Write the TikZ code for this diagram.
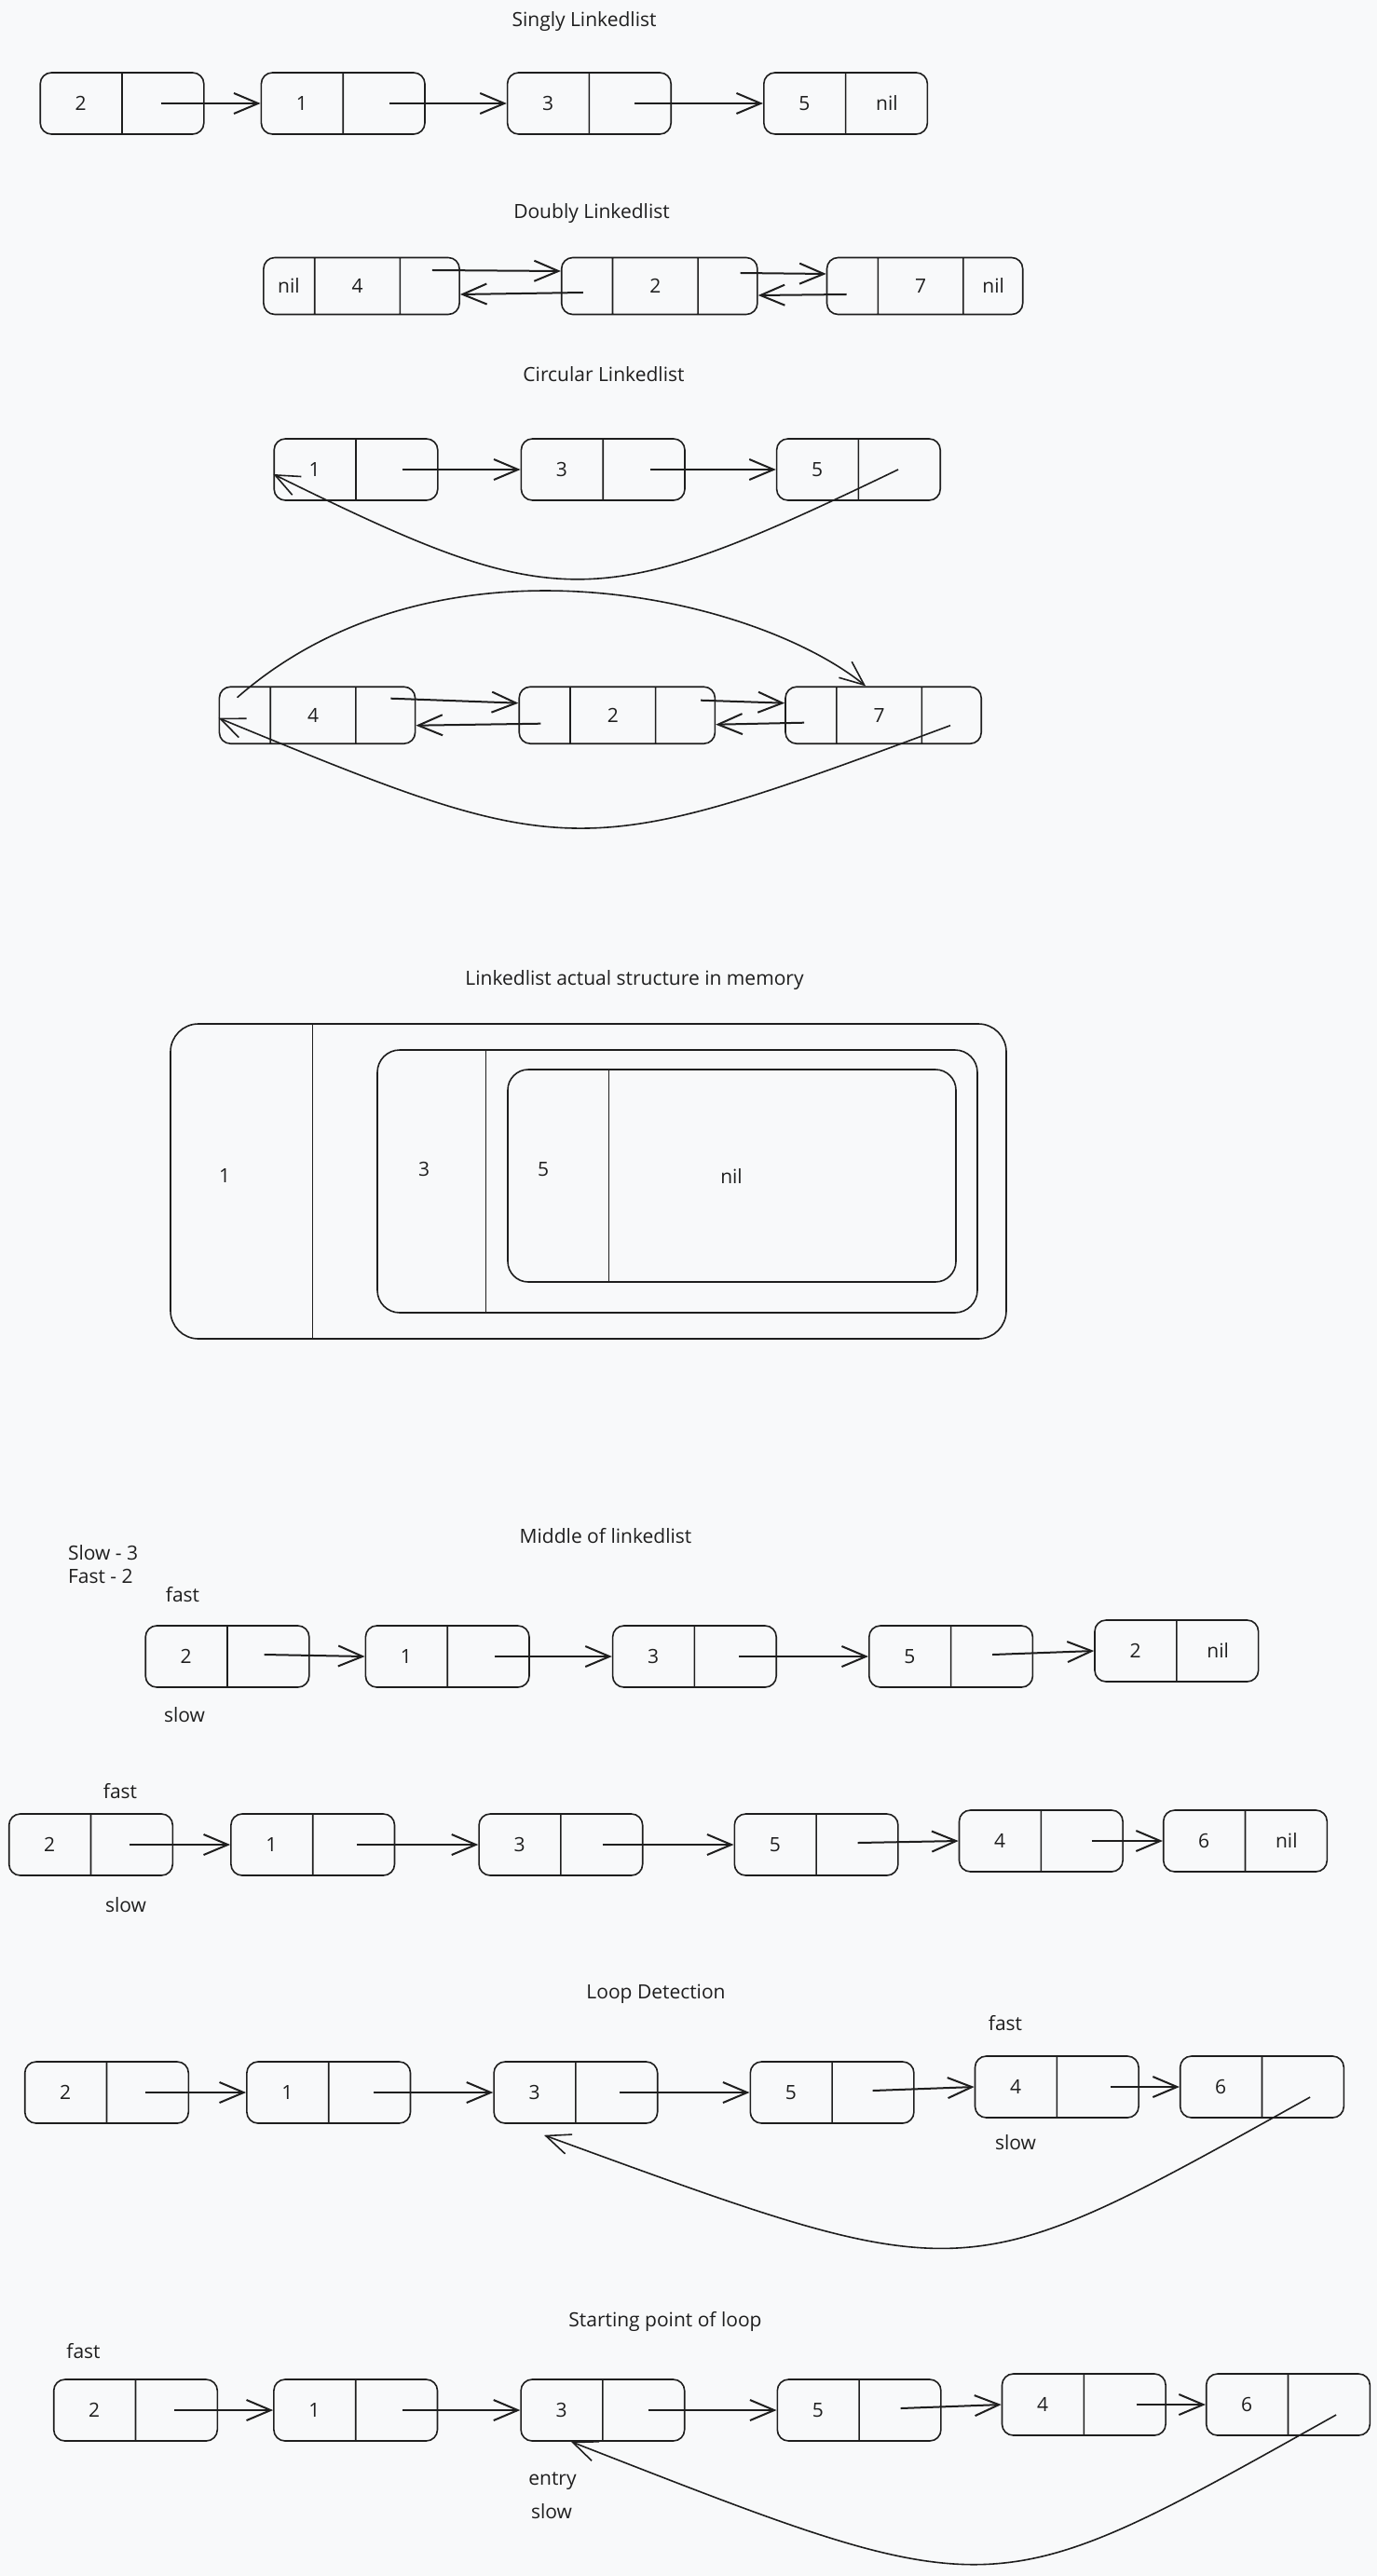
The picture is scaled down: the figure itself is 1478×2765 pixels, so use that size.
\documentclass[tikz,border=0pt]{standalone}
\usepackage{fontspec}
\setmainfont{Open Sans}
\usepackage{tikz}
\usetikzlibrary{positioning,shapes.multipart,arrows.meta}
\usepackage{xcolor}
\definecolor{paper}{HTML}{F8F9FA}
\definecolor{ink}{HTML}{1E1E1E}
\tikzstyle{llcell}=[draw=ink,line width=0.8pt,rounded corners=6pt,rectangle split,rectangle split horizontal,rectangle split parts=2,text width=39.5pt,align=center,inner xsep=2pt,inner ysep=0pt,minimum height=33pt]
\tikzstyle{dllcell}=[draw=ink,line width=0.8pt,rounded corners=6pt,rectangle split,rectangle split horizontal,rectangle split parts=3,inner xsep=0pt,inner ysep=0pt,minimum height=30.5pt]
\tikzstyle{membox}=[draw=ink,line width=0.8pt,inner sep=0pt]
\tikzstyle{ptr}=[draw=ink,line width=1pt,-{Straight Barb[length=13pt,width=11pt]}]
\tikzstyle{backptr}=[draw=ink,line width=0.8pt,-{Straight Barb[length=13pt,width=11pt]}]

\begin{document}
\begin{tikzpicture}[x=0.5pt,y=-0.5pt,color=ink,font=\fontsize{10.5}{12.5}\selectfont]

	\fill[paper] (0,0) rectangle (1478,2765);
	\useasboundingbox (0,0) rectangle (1478,2765);

	% singly
	\node (tsingly) at (627,23) {Singly Linkedlist};
	\node[llcell] (sA) at (131,111) {2 \nodepart{two}};
	\node[llcell, right=30pt of sA] (sB) {1 \nodepart{two}};
	\node[llcell, right=43.5pt of sB] (sC) {3 \nodepart{two}};
	\node[llcell, right=49pt of sC] (sD) {5 \nodepart{two} nil};
	\draw[ptr] ([xshift=-23.5pt]sA.east) -- (sB.west);
	\draw[ptr] ([xshift=-19.5pt]sB.east) -- (sC.west);
	\draw[ptr] ([xshift=-20pt]sC.east) -- (sD.west);

	% doubly
	\node (tdoubly) at (635,229) {Doubly Linkedlist};
	\node[dllcell] (dE) at (388,307) {\makebox[27pt]{nil}\nodepart{two}\makebox[45pt]{4}\nodepart{three}\makebox[31.5pt]{}};
	\node[dllcell, right=54pt of dE] (dF) {\makebox[27pt]{}\nodepart{two}\makebox[45pt]{2}\nodepart{three}\makebox[31.5pt]{}};
	\node[dllcell, right=36.5pt of dF] (dG) {\makebox[27pt]{}\nodepart{two}\makebox[45pt]{7}\nodepart{three}\makebox[31.5pt]{nil}};
	\draw[ptr] ([xshift=-15pt,yshift=8.5pt]dE.east) -- ([yshift=8pt]dF.west);
	\draw[ptr] ([xshift=12pt,yshift=-3.5pt]dF.west) -- ([yshift=-4.5pt]dE.east);
	\draw[ptr] ([xshift=-9.5pt,yshift=7pt]dF.east) -- ([yshift=6.5pt]dG.west);
	\draw[ptr] ([xshift=11pt,yshift=-4.5pt]dG.west) -- ([yshift=-5pt]dF.east);

	% circular
	\node (tcircular) at (648,402) {Circular Linkedlist};
	\node[llcell] (cH) at (382,504) {1 \nodepart{two}};
	\node[llcell, right=44pt of cH] (cI) {3 \nodepart{two}};
	\node[llcell, right=48.5pt of cI] (cJ) {5 \nodepart{two}};
	\draw[ptr] ([xshift=-19.5pt]cH.east) -- (cI.west);
	\draw[ptr] ([xshift=-19pt]cI.east) -- (cJ.west);
	\draw[backptr] ([xshift=-23pt]cJ.east) .. controls (640,660) and (600,660) .. ([yshift=-2.5pt]cH.west);

	\node[dllcell] (cK) at (340.5,767.7) {\makebox[27pt]{}\nodepart{two}\makebox[45pt]{4}\nodepart{three}\makebox[31.5pt]{}};
	\node[dllcell, right=55pt of cK] (cL) {\makebox[27pt]{}\nodepart{two}\makebox[45pt]{2}\nodepart{three}\makebox[31.5pt]{}};
	\node[dllcell, right=37pt of cL] (cM) {\makebox[27pt]{}\nodepart{two}\makebox[45pt]{7}\nodepart{three}\makebox[31.5pt]{}};
	\draw[ptr] ([xshift=-13.5pt,yshift=9pt]cK.east) -- ([yshift=6.5pt]cL.west);
	\draw[ptr] ([xshift=12pt,yshift=-4.5pt]cL.west) -- ([yshift=-5.5pt]cK.east);
	\draw[ptr] ([xshift=-8pt,yshift=8pt]cL.east) -- ([yshift=6.5pt]cM.west);
	\draw[ptr] ([xshift=10.5pt,yshift=-4pt]cM.west) -- ([yshift=-5pt]cL.east);
	\draw[backptr] ([xshift=10pt,yshift=9.5pt]cK.west) .. controls (470,560) and (810,640) .. ([xshift=-9.5pt]cM.north);
	\draw[backptr] ([xshift=-17pt,yshift=-5.5pt]cM.east) .. controls (620,927) and (614,927) .. ([yshift=-1.5pt]cK.west);

	% memory layout
	\node (tmemory) at (681,1052) {Linkedlist actual structure in memory};
	\node[membox, minimum width=448.5pt, minimum height=169pt, rounded corners=15pt] (mem1) at (631.5,1268) {};
	\draw[line width=0.6pt] ([xshift=76.5pt]mem1.north west) -- ([xshift=76.5pt]mem1.south west);
	\node[membox, minimum width=322pt, minimum height=141pt, rounded corners=12pt] (mem2) at (727,1268) {};
	\draw[line width=0.6pt] ([xshift=58.5pt]mem2.north west) -- ([xshift=58.5pt]mem2.south west);
	\node[membox, minimum width=240.5pt, minimum height=114pt, rounded corners=11pt] (mem3) at (785.5,1262) {};
	\draw[line width=0.6pt] ([xshift=54.5pt]mem3.north west) -- ([xshift=54.5pt]mem3.south west);
	\node (m1) at (241,1262) {1};
	\node (m3) at (455,1255) {3};
	\node (m5) at (583,1255) {5};
	\node (mnil) at (785,1263) {nil};

	% middle of list
	\node (tmiddle) at (650,1649) {Middle of linkedlist};
	\node[anchor=west] (nslow) at (66,1667) {Slow - 3};
	\node[anchor=west] (nfast) at (66,1692) {Fast - 2};
	\node (mfast) at (196,1712) {fast};
	\node[llcell] (mA) at (244,1778) {2 \nodepart{two}};
	\node[llcell, right=29.5pt of mA] (mB) {1 \nodepart{two}};
	\node[llcell, right=44pt of mB] (mC) {3 \nodepart{two}};
	\node[llcell, right=49pt of mC] (mD) {5 \nodepart{two}};
	\node[llcell, right=32.5pt of mD, yshift=3pt] (mE) {2 \nodepart{two} nil};
	\node (mslow) at (198,1841) {slow};
	\draw[ptr] ([xshift=-24.5pt,yshift=1pt]mA.east) -- (mB.west);
	\draw[ptr] ([xshift=-19pt]mB.east) -- (mC.west);
	\draw[ptr] ([xshift=-20.5pt]mC.east) -- (mD.west);
	\draw[ptr] ([xshift=-22pt,yshift=1pt]mD.east) -- (mE.west);

	\node (pfast) at (129,1923) {fast};
	\node[llcell] (pA) at (97.5,1980) {2 \nodepart{two}};
	\node[llcell, right=30.5pt of pA] (pB) {1 \nodepart{two}};
	\node[llcell, right=44.5pt of pB] (pC) {3 \nodepart{two}};
	\node[llcell, right=48.5pt of pC] (pD) {5 \nodepart{two}};
	\node[llcell, right=32pt of pD, yshift=2pt] (pE) {4 \nodepart{two}};
	\node[llcell, right=21pt of pE] (pF) {6 \nodepart{two} nil};
	\node (pslow) at (135,2045) {slow};
	\draw[ptr] ([xshift=-23.5pt]pA.east) -- (pB.west);
	\draw[ptr] ([xshift=-20.5pt]pB.east) -- (pC.west);
	\draw[ptr] ([xshift=-22pt]pC.east) -- (pD.west);
	\draw[ptr] ([xshift=-22pt,yshift=1pt]pD.east) -- (pE.west);
	\draw[ptr] ([xshift=-17pt]pE.east) -- (pF.west);

	% loop detection
	\node (tloop) at (704,2140) {Loop Detection};
	\node (lfast) at (1079,2172) {fast};
	\node[llcell] (lA) at (114.5,2246) {2 \nodepart{two}};
	\node[llcell, right=30.5pt of lA] (lB) {1 \nodepart{two}};
	\node[llcell, right=44pt of lB] (lC) {3 \nodepart{two}};
	\node[llcell, right=49pt of lC] (lD) {5 \nodepart{two}};
	\node[llcell, right=32pt of lD, yshift=3pt] (lE) {4 \nodepart{two}};
	\node[llcell, right=21.5pt of lE] (lF) {6 \nodepart{two}};
	\node (lslow) at (1090,2300) {slow};
	\draw[ptr] ([xshift=-23.5pt]lA.east) -- (lB.west);
	\draw[ptr] ([xshift=-20pt]lB.east) -- (lC.west);
	\draw[ptr] ([xshift=-21pt]lC.east) -- (lD.west);
	\draw[ptr] ([xshift=-22.5pt,yshift=1pt]lD.east) -- (lE.west);
	\draw[ptr] ([xshift=-15.5pt]lE.east) -- (lF.west);
	\draw[backptr] ([xshift=-18.5pt,yshift=-5.5pt]lF.east) .. controls (1030,2460) and (1045,2460) .. ([xshift=-17pt,yshift=-6pt]lC.south);

	% starting point of loop
	\node (tstart) at (714,2492) {Starting point of loop};
	\node (tfast) at (89.5,2524) {fast};
	\node[llcell] (tA) at (145.5,2587) {2 \nodepart{two}};
	\node[llcell, right=29.5pt of tA] (tB) {1 \nodepart{two}};
	\node[llcell, right=44pt of tB] (tC) {3 \nodepart{two}};
	\node[llcell, right=49pt of tC] (tD) {5 \nodepart{two}};
	\node[llcell, right=32pt of tD, yshift=3pt] (tE) {4 \nodepart{two}};
	\node[llcell, right=21pt of tE] (tF) {6 \nodepart{two}};
	\node (tentry) at (593,2663) {entry};
	\node (tslow) at (592,2696) {slow};
	\draw[ptr] ([xshift=-23.5pt]tA.east) -- (tB.west);
	\draw[ptr] ([xshift=-19pt]tB.east) -- (tC.west);
	\draw[ptr] ([xshift=-20pt]tC.east) -- (tD.west);
	\draw[ptr] ([xshift=-22pt,yshift=1pt]tD.east) -- (tE.west);
	\draw[ptr] ([xshift=-16pt]tE.east) -- (tF.west);
	\draw[backptr] ([xshift=-18.5pt,yshift=-5.5pt]tF.east) .. controls (1060,2801) and (1075,2801) .. ([xshift=-17pt]tC.south);

\end{tikzpicture}
\end{document}
